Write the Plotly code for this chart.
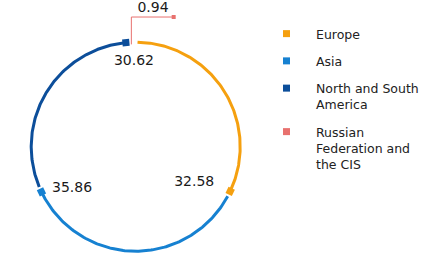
import numpy as np
import plotly.graph_objects as go

# ---- data ----
regions = ["Europe", "Asia", "North and South America", "Russian Federation and the CIS"]
legend_labels = ["Europe", "Asia", "North and South<br>America", "Russian<br>Federation and<br>the CIS"]
values = [32.58, 35.86, 30.62, 0.94]
value_labels = ["32.58", "35.86", "30.62", "0.94"]
colors = ["#F5A00F", "#1681D1", "#0C4E9A", "#E8716E"]

# ---- layout constants ----
START = -2.0   # rotation of first slice start (deg, clockwise from top)
GAP = 3.0      # gap at start of each slice (deg)
FONT = "DejaVu Sans"
W, H = 421, 262
R_PX = 104.5          # ring radius in pixels
cx, cy = 135.7, 146.7  # ring centre in pixels
PLOT_W = 270           # width of the plotting area in pixels

total = sum(values)
bounds = np.cumsum([0] + values) / total * 360.0 + START


def xy(r, theta_deg):
    t = np.radians(theta_deg)
    return r * np.sin(t), r * np.cos(t)


fig = go.Figure()

# main arcs + end markers
for i in range(3):
    a0 = bounds[i] + GAP
    a1 = bounds[i + 1]
    th = np.linspace(a0, a1, 150)
    x, y = xy(1.0, th)
    fig.add_trace(go.Scatter(x=x, y=y, mode="lines",
                             line=dict(color=colors[i], width=3),
                             showlegend=False, hoverinfo="skip", cliponaxis=False))
    mx, my = xy(1.0, a1)
    fig.add_trace(go.Scatter(x=[mx], y=[my], mode="markers",
                             marker=dict(symbol="square", size=7, color=colors[i], angle=a1),
                             showlegend=False, hoverinfo="skip", cliponaxis=False))

# small slice with leader line
th_r = bounds[3] + GAP
x0, y0 = xy(1.0, th_r)
LEAD_Y = 1.241
LEAD_DX = 0.405
fig.add_trace(go.Scatter(x=[x0, x0, x0 + LEAD_DX], y=[y0 - 0.02, LEAD_Y, LEAD_Y], mode="lines",
                         line=dict(color=colors[3], width=1),
                         showlegend=False, hoverinfo="skip", cliponaxis=False))
fig.add_trace(go.Scatter(x=[x0 + LEAD_DX], y=[LEAD_Y], mode="markers",
                         marker=dict(symbol="square", size=4, color=colors[3]),
                         showlegend=False, hoverinfo="skip", cliponaxis=False))

# value labels (polar offsets from slice geometry)
lab_pos = [(0.657, 121.6), (0.726, 237.0), (0.811, -1.2)]
for i in range(3):
    lx, ly = xy(*lab_pos[i])
    fig.add_trace(go.Scatter(x=[lx], y=[ly], mode="text",
                             text=[value_labels[i]], textposition="middle center",
                             textfont=dict(family=FONT, size=14, color="#1a1a1a"),
                             showlegend=False, hoverinfo="skip", cliponaxis=False))
fig.add_trace(go.Scatter(x=[x0 + LEAD_DX / 2 + 0.005], y=[LEAD_Y + 0.078], mode="text",
                         text=[value_labels[3]], textposition="middle center",
                         textfont=dict(family=FONT, size=14, color="#1a1a1a"),
                         showlegend=False, hoverinfo="skip", cliponaxis=False))

# legend entries
for i in range(4):
    fig.add_trace(go.Scatter(x=[None], y=[None], mode="markers", name=legend_labels[i],
                             marker=dict(symbol="square", size=7, color=colors[i]),
                             legendgroup=regions[i], showlegend=True))

xr = [(0 - cx) / R_PX, (PLOT_W - cx) / R_PX]
yr = [(cy - H) / R_PX, (cy - 0) / R_PX]
ax = dict(visible=False, showgrid=False, zeroline=False, fixedrange=True)
fig.update_layout(
    width=W, height=H, margin=dict(l=0, r=0, t=0, b=0, autoexpand=False),
    paper_bgcolor="white", plot_bgcolor="white",
    xaxis=dict(ax, range=xr, domain=[0, PLOT_W / W]),
    yaxis=dict(ax, range=yr, domain=[0, 1]),
    legend=dict(x=257 / W, y=1 - 19 / H, xanchor="left", yanchor="top",
                font=dict(family=FONT, size=12.5, color="#222222"),
                valign="top", tracegroupgap=8, itemwidth=49, bgcolor="rgba(0,0,0,0)"),
    showlegend=True,
)

fig.write_html("out.html")
